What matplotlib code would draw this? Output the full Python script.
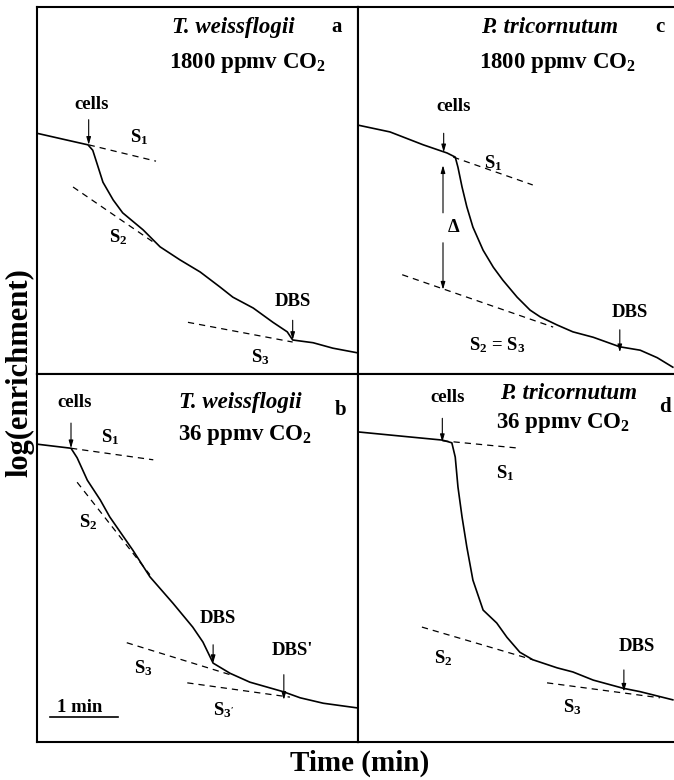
import matplotlib
matplotlib.use("Agg")
import matplotlib.pyplot as plt

plt.rcParams['font.family'] = 'Liberation Serif'
plt.rcParams['font.weight'] = 'bold'
plt.rcParams['mathtext.fontset'] = 'custom'
plt.rcParams['mathtext.rm'] = 'Liberation Serif:bold'
plt.rcParams['mathtext.it'] = 'Liberation Serif:bold'
plt.rcParams['mathtext.bf'] = 'Liberation Serif:bold'

# traces: time (min), log(enrichment) in arbitrary units
a_t = [0, 0.44, 0.75, 0.82, 0.90, 0.97, 1.12, 1.26, 1.56, 1.81, 2.10, 2.40, 2.69, 2.88,
       3.18, 3.47, 3.68, 3.76, 4.06, 4.35, 4.72]
a_y = [3.54, 3.44, 3.37, 3.29, 3.04, 2.82, 2.56, 2.37, 2.12, 1.87, 1.68, 1.50, 1.28, 1.13,
       0.97, 0.76, 0.62, 0.50, 0.46, 0.38, 0.31]

b_t = [0, 0.50, 0.59, 0.74, 0.93, 1.07, 1.41, 1.66, 2.00, 2.29, 2.44, 2.59, 2.84, 3.13,
       3.62, 3.87, 4.21, 4.72]
b_y = [4.38, 4.32, 4.18, 3.85, 3.56, 3.31, 2.82, 2.43, 2.04, 1.69, 1.47, 1.16, 1.01, 0.88,
       0.74, 0.65, 0.57, 0.50]

c_t = [0, 0.47, 0.96, 1.31, 1.43, 1.47, 1.53, 1.60, 1.69, 1.84, 1.99, 2.13, 2.34, 2.53,
       2.68, 2.93, 3.16, 3.46, 3.85, 4.15, 4.40, 4.63]
c_y = [3.66, 3.56, 3.37, 3.25, 3.19, 3.04, 2.75, 2.46, 2.16, 1.82, 1.57, 1.38, 1.13, 0.94,
       0.84, 0.72, 0.62, 0.54, 0.40, 0.35, 0.24, 0.10]

d_t = [0, 0.72, 1.24, 1.38, 1.43, 1.47, 1.53, 1.60, 1.69, 1.84, 2.04, 2.19, 2.38, 2.57,
       2.93, 3.16, 3.46, 3.90, 4.15, 4.63]
d_y = [4.56, 4.49, 4.44, 4.40, 4.19, 3.75, 3.31, 2.87, 2.38, 1.94, 1.75, 1.54, 1.32, 1.21,
       1.09, 1.03, 0.91, 0.79, 0.74, 0.62]

# fitted slopes (dashed): (t0, y0, t1, y1)
a_fits = [(0.76, 3.37, 1.75, 3.13), (0.53, 2.75, 1.71, 1.94), (2.22, 0.76, 3.76, 0.47)]
b_fits = [(0.50, 4.32, 1.71, 4.15), (0.59, 3.82, 1.66, 2.46), (1.32, 1.46, 2.84, 0.99),
          (2.21, 0.87, 3.72, 0.66)]
c_fits = [(1.40, 3.19, 2.57, 2.78), (0.65, 1.46, 2.87, 0.69)]
d_fits = [(1.24, 4.43, 2.38, 4.32), (0.94, 1.69, 2.57, 1.21), (2.78, 0.87, 4.44, 0.65)]

# markers (down arrows): (t, y_from, y_to)
a_arrows = [(0.76, 3.74, 3.37), (3.76, 0.79, 0.50)]
b_arrows = [(0.50, 4.69, 4.32), (2.59, 1.43, 1.16), (3.63, 0.99, 0.62)]
c_arrows = [(1.26, 3.54, 3.26), (3.85, 0.65, 0.32)]
d_arrows = [(1.24, 4.76, 4.41), (3.91, 1.06, 0.74)]

# annotations: (text, t, y)
a_labels = [("cells", 0.81, 3.96), (r"S$_1$", 1.51, 3.49), (r"S$_2$", 1.19, 2.01),
            ("DBS", 3.76, 1.06), (r"S$_3$", 3.28, 0.25)]
b_labels = [("cells", 0.56, 4.99), (r"S$_1$", 1.07, 4.49), (r"S$_2$", 0.75, 3.24),
            ("DBS", 2.66, 1.82), (r"S$_3$", 1.56, 1.09), ("DBS'", 3.76, 1.35),
            (r"S$_{3'}$", 2.74, 0.47), ("1 min", 0.63, 0.50)]
c_labels = [("cells", 1.40, 3.93), (r"S$_1$", 1.99, 3.10), (r"S$_2$ = S$_3$", 2.04, 0.43),
            ("DBS", 4.00, 0.90), (r"$\Delta$", 1.40, 2.16)]
d_labels = [("cells", 1.32, 5.07), (r"S$_1$", 2.16, 3.96), (r"S$_2$", 1.25, 1.24),
            ("DBS", 4.10, 1.40), (r"S$_3$", 3.15, 0.51)]

species = ["T. weissflogii", "T. weissflogii", "P. tricornutum", "P. tricornutum"]
co2 = [r"1800 ppmv CO$_2$", r"36 ppmv CO$_2$", r"1800 ppmv CO$_2$", r"36 ppmv CO$_2$"]
letters = ["a", "b", "c", "d"]
title_pos = [(2.88, 5.10, 4.41, 5.10, 3.09, 4.57),
             (2.99, 4.99, 4.46, 4.88, 3.06, 4.51),
             (2.82, 5.10, 4.44, 5.10, 2.93, 4.57),
             (3.09, 5.13, 4.51, 4.93, 3.01, 4.69)]

W, H = 674, 780
fig = plt.figure(figsize=(W / 100, H / 100), dpi=100)

boxes = [(37, 7, 321, 367), (37, 374, 321, 368), (358, 7, 316, 367), (358, 374, 316, 368)]
traces = [(a_t, a_y), (b_t, b_y), (c_t, c_y), (d_t, d_y)]
fits = [a_fits, b_fits, c_fits, d_fits]
arrows = [a_arrows, b_arrows, c_arrows, d_arrows]
labels = [a_labels, b_labels, c_labels, d_labels]

head = '-|>,head_length=0.45,head_width=0.13'

for i in range(4):
    x, y, w, h = boxes[i]
    ax = fig.add_axes([x / W, (H - y - h) / H, w / W, h / H])
    ax.set_xlim(0, w / 68)
    ax.set_ylim(0, h / 68)
    ax.set_xticks([])
    ax.set_yticks([])
    for s in ax.spines.values():
        s.set_linewidth(1.5)
    if i >= 2:
        ax.spines['right'].set_visible(False)

    t, v = traces[i]
    ax.plot(t, v, color='black', lw=1.2)
    for t0, y0, t1, y1 in fits[i]:
        ax.plot([t0, t1], [y0, y1], color='black', lw=0.9, dashes=(5, 4))
    for t0, y0, y1 in arrows[i]:
        ax.annotate('', xy=(t0, y1), xytext=(t0, y0),
                    arrowprops=dict(arrowstyle=head, color='black', lw=0.8,
                                    shrinkA=0, shrinkB=0))
    for txt, tx, ty in labels[i]:
        ax.text(tx, ty, txt, fontsize=13.5, ha='center', va='center')

    sx, sy, lx, ly, cx, cy = title_pos[i]
    ax.text(sx, sy, species[i], fontsize=16.5, style='italic', ha='center', va='center')
    ax.text(lx, ly, letters[i], fontsize=15, ha='center', va='center')
    ax.text(cx, cy, co2[i], fontsize=16.5, ha='center', va='center')

    if i == 1:
        # 1 min scale bar
        ax.plot([0.19, 1.19], [0.37, 0.37], color='black', lw=1.2)
    if i == 2:
        # delta arrows
        ax.annotate('', xy=(1.25, 3.07), xytext=(1.25, 2.37),
                    arrowprops=dict(arrowstyle=head, color='black', lw=0.8,
                                    shrinkA=0, shrinkB=0))
        ax.annotate('', xy=(1.25, 1.24), xytext=(1.25, 1.93),
                    arrowprops=dict(arrowstyle=head, color='black', lw=0.8,
                                    shrinkA=0, shrinkB=0))

fig.text(0.030, 0.522, "log(enrichment)", fontsize=22, rotation=90, ha='center', va='center')
fig.text(0.534, 0.021, "Time (min)", fontsize=21, ha='center', va='center')

fig.savefig("out.png", dpi=100)
